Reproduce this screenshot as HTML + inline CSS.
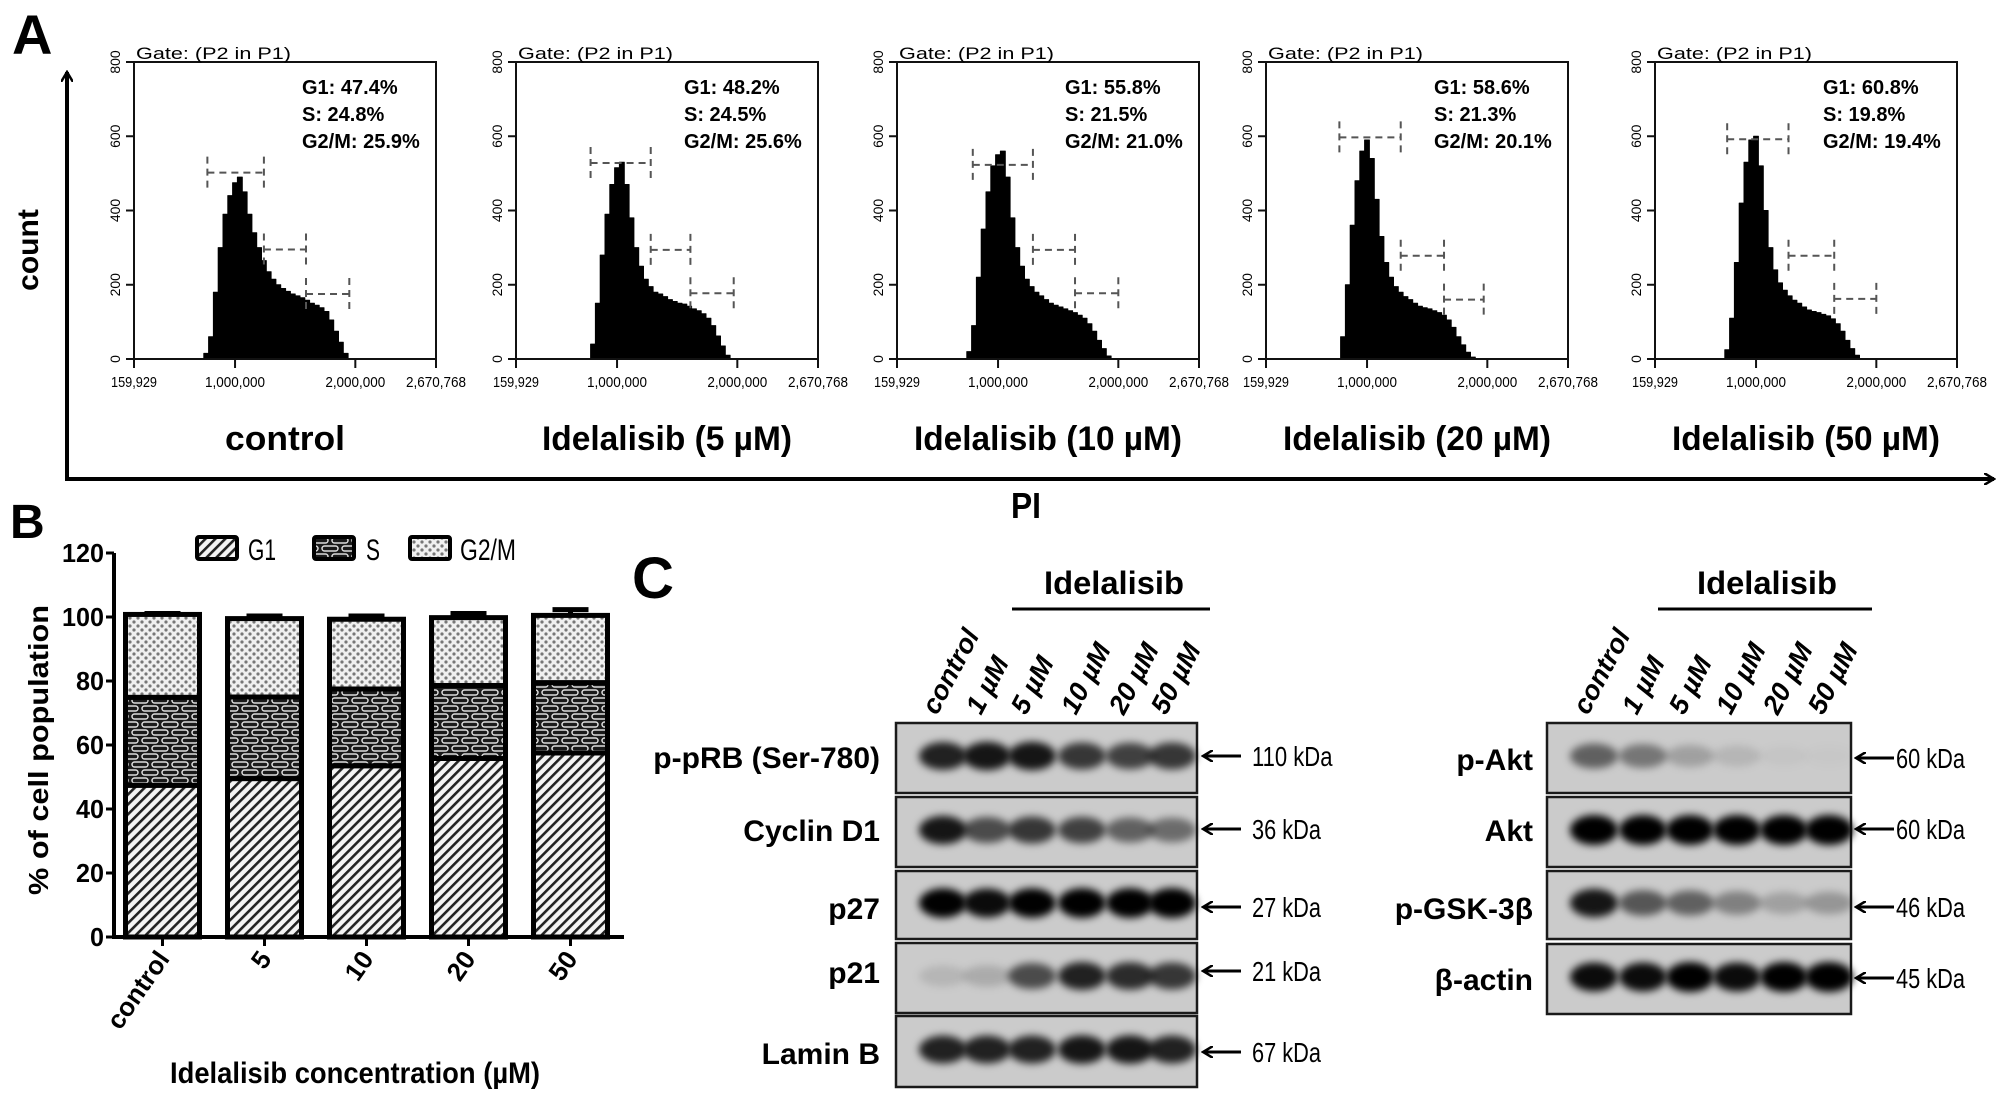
<!DOCTYPE html>
<html><head><meta charset="utf-8">
<style>
html,body{margin:0;padding:0;background:#fff;}
svg{display:block;}
text{font-family:"Liberation Sans",sans-serif;}
</style></head>
<body>
<svg id="fig" width="2008" height="1103" viewBox="0 0 2008 1103" xmlns="http://www.w3.org/2000/svg">
<defs>
<pattern id="pG1" width="7" height="7" patternUnits="userSpaceOnUse" patternTransform="rotate(45)">
<rect width="7" height="7" fill="#f4f4f4"/><rect width="2.6" height="7" fill="#222"/>
</pattern>
<pattern id="pS" width="20" height="16" patternUnits="userSpaceOnUse">
<rect width="20" height="16" fill="#1a1a1a"/>
<rect x="2" y="2" width="16" height="5" rx="2.5" fill="none" stroke="#ddd" stroke-width="1.5"/>
<rect x="-8" y="10" width="16" height="5" rx="2.5" fill="none" stroke="#ddd" stroke-width="1.5"/>
<rect x="12" y="10" width="16" height="5" rx="2.5" fill="none" stroke="#ddd" stroke-width="1.5"/>
</pattern>
<pattern id="pG2" width="8" height="8" patternUnits="userSpaceOnUse">
<rect width="8" height="8" fill="#f0f0f0"/><circle cx="2" cy="2" r="1.6" fill="#777"/><circle cx="6" cy="6" r="1.6" fill="#777"/>
</pattern>
<filter id="blur" x="-30%" y="-80%" width="160%" height="260%"><feGaussianBlur stdDeviation="4"/></filter>
<marker id="ah" markerWidth="12" markerHeight="12" refX="10" refY="6" orient="auto" markerUnits="userSpaceOnUse"><path d="M0,0 L10,6 L0,12" fill="none" stroke="#000" stroke-width="2.5"/></marker>
</defs>
<g id="panelA"></g>
<g id="panelB"></g>
<g id="panelC"></g>
</svg>
<script>
// ---------- Panel A data ----------
const histBinStart = 700000;
const histBinStep = 40000;
const histTitles = ["control","Idelalisib (5 µM)","Idelalisib (10 µM)","Idelalisib (20 µM)","Idelalisib (50 µM)"];
const histG1 = ["47.4%","48.2%","55.8%","58.6%","60.8%"];
const histS = ["24.8%","24.5%","21.5%","21.3%","19.8%"];
const histG2M = ["25.9%","25.6%","21.0%","20.1%","19.4%"];
const histCounts0 = [0,15,60,180,300,390,440,475,490,450,390,340,300,265,235,215,200,190,182,175,170,165,158,150,145,138,128,105,75,45,15,0];
const histCounts1 = [0,0,40,150,280,390,470,515,530,470,380,300,250,215,195,180,175,168,160,155,150,148,142,135,130,122,110,90,62,35,10,0];
const histCounts2 = [0,20,90,220,350,450,520,550,560,490,380,300,250,215,195,180,170,160,150,145,140,135,130,125,118,110,95,75,50,28,8,0];
const histCounts3 = [0,0,60,200,360,480,560,590,540,430,330,260,220,195,180,168,160,150,142,138,135,130,125,118,105,85,60,38,18,5,0,0];
const histCounts4 = [0,25,110,260,420,530,590,600,520,400,300,240,205,185,170,158,150,140,132,128,125,120,116,108,95,75,50,28,10,0,0,0];
const gateG1Lo = [770000,780000,790000,770000,760000];
const gateG1Hi = [1240000,1280000,1290000,1280000,1270000];
const gateSHi = [1590000,1610000,1640000,1640000,1650000];
const gateG2Hi = [1950000,1970000,2000000,1970000,2000000];
const gateG1Y = [502,528,523,597,592];
const gateSY = [295,294,294,278,278];
const gateG2Y = [175,177,177,160,162];
const histXTicks = [159929,1000000,2000000,2670768];
const histXTickLabels = ["159,929","1,000,000","2,000,000","2,670,768"];
const histYTicks = [0,200,400,600,800];

// ---------- Panel B data ----------
const barCats = ["control","5","10","20","50"];
const barG1 = [47.4,49.5,53.5,55.8,57.5];
const barS = [27.5,25.5,24.0,22.8,22.0];
const barG2M = [25.9,24.5,21.8,21.2,21.0];
const barErr = [0.3,0.8,1.0,1.3,1.8];
const barYTicks = [0,20,40,60,80,100,120];

// ---------- Panel C data ----------
const laneLabels = ["control","1 µM","5 µM","10 µM","20 µM","50 µM"];
const blotLeftNames = ["p-pRB (Ser-780)","Cyclin D1","p27","p21","Lamin B"];
const blotLeftKda = ["110 kDa","36 kDa","27 kDa","21 kDa","67 kDa"];
const bandPpRB = [0.8,0.85,0.85,0.7,0.65,0.7];
const bandCyclinD1 = [0.85,0.6,0.7,0.65,0.5,0.45];
const bandP27 = [0.95,0.9,0.95,0.97,0.97,1];
const bandP21 = [0.1,0.15,0.6,0.8,0.75,0.7];
const bandLaminB = [0.8,0.8,0.8,0.85,0.85,0.8];
const blotRightNames = ["p-Akt","Akt","p-GSK-3β","β-actin"];
const blotRightKda = ["60 kDa","60 kDa","46 kDa","45 kDa"];
const bandPAkt = [0.5,0.4,0.2,0.1,0.03,0.02];
const bandAkt = [1,1,1,1,1,1];
const bandPGSK = [0.85,0.55,0.5,0.35,0.2,0.25];
const bandActin = [0.9,0.9,1,0.9,1,1];

const NS = "http://www.w3.org/2000/svg";
function el(tag, attrs, parent, txt){
  const e = document.createElementNS(NS, tag);
  for (const k in attrs) e.setAttribute(k, attrs[k]);
  if (txt !== undefined) e.textContent = txt;
  parent.appendChild(e);
  return e;
}
const A = document.getElementById('panelA');
const B = document.getElementById('panelB');
const C = document.getElementById('panelC');

// ===== Panel A frame =====
let t = el('text',{x:12,y:54,'font-size':56,'font-weight':'bold'},A,'A');


let ln = el('line',{x1:67,y1:479,x2:67,y2:72,stroke:'#000','stroke-width':4,'marker-end':'url(#ah)'},A);


ln = el('line',{x1:65,y1:479,x2:1994,y2:479,stroke:'#000','stroke-width':4,'marker-end':'url(#ah)'},A);


t = el('text',{x:0,y:0,'font-size':30,'font-weight':'bold','text-anchor':'middle',transform:'translate(38,250) rotate(-90)'},A,'count');


t = el('text',{x:1026,y:518,'font-size':36,'font-weight':'bold','text-anchor':'middle',textLength:30,lengthAdjust:'spacingAndGlyphs'},A,'PI');



const histLefts = [134,516,897,1266,1655];
const histW = 302, histTop = 62, histZero = 359;
const histCounts = [histCounts0,histCounts1,histCounts2,histCounts3,histCounts4];
histLefts.forEach((L,p)=>{
  const g = el('g',{},A);
  
  
  const xS = v => L + (v-159929)/(2670768-159929)*histW;
  const yS = c => histZero - c/800*(histZero-histTop);
  const cs = histCounts[p];
  let d = 'M'+xS(histBinStart)+','+yS(0);
  cs.forEach((c,i)=>{
    const x0 = xS(histBinStart+i*histBinStep), x1 = xS(histBinStart+(i+1)*histBinStep);
    d += ' L'+x0.toFixed(1)+','+yS(c).toFixed(1)+' L'+x1.toFixed(1)+','+yS(c).toFixed(1);
  });
  d += ' L'+xS(histBinStart+cs.length*histBinStep)+','+yS(0)+' Z';
  const h = el('path',{d:d,fill:'#000',stroke:'#000','stroke-width':1,'stroke-linejoin':'round'},g);
  
  
  const box = el('path',{d:`M${L},${histZero} L${L},${histTop} L${L+histW},${histTop} L${L+histW},${histZero} Z`,fill:'none',stroke:'#111','stroke-width':2},g);
  
  
  histXTicks.forEach((v,i)=>{
    const tk = el('line',{x1:xS(v),y1:histZero,x2:xS(v),y2:histZero+9,stroke:'#111','stroke-width':2},g);
    
    
    const tl = el('text',{x:xS(v),y:histZero+28,'font-size':15,'text-anchor':'middle',textLength:histXTickLabels[i].length>7?60:46,lengthAdjust:'spacingAndGlyphs'},g,histXTickLabels[i]);
    
    
  });
  histYTicks.forEach(v=>{
    const tk = el('line',{x1:L-8,y1:yS(v),x2:L,y2:yS(v),stroke:'#111','stroke-width':2},g);
    
    
    const tl = el('text',{x:0,y:0,'font-size':14,'text-anchor':'middle',transform:`translate(${L-14},${yS(v)}) rotate(-90)`},g,String(v));
    
    
  });
  const gl = el('text',{x:L+2,y:histTop-3,'font-size':17,textLength:155,lengthAdjust:'spacingAndGlyphs'},g,'Gate: (P2 in P1)');
  
  
  [['G1: '+histG1[p],94],['S: '+histS[p],121],['G2/M: '+histG2M[p],148]].forEach(s=>{
    const st = el('text',{x:L+168,y:s[1],'font-size':20,'font-weight':'bold'},g,s[0]);
    
    
  });
  [[gateG1Lo[p],gateG1Hi[p],gateG1Y[p]],[gateG1Hi[p],gateSHi[p],gateSY[p]],[gateSHi[p],gateG2Hi[p],gateG2Y[p]]].forEach((gg,i)=>{
    const x0 = xS(gg[0]), x1 = xS(gg[1]), y = yS(gg[2]);
    const gp = el('path',{d:`M${x0},${y-16} L${x0},${y+16} M${x1},${y-16} L${x1},${y+16} M${x0},${y} L${x1},${y}`,stroke:'#555','stroke-width':2,'stroke-dasharray':'7,5',fill:'none'},g);
    
    
  });
  const ct = el('text',{x:L+histW/2,y:450,'font-size':34,'font-weight':'bold','text-anchor':'middle',textLength:p===0?120:(p===1?250:268),lengthAdjust:'spacingAndGlyphs'},g,histTitles[p]);
  
  
});

// ===== Panel B =====
t = el('text',{x:10,y:538,'font-size':48,'font-weight':'bold'},B,'B');


const yB = v => 937 - v*(384/120);
const xB = i => 162.5 + i*102;
const bw = 74;
let ax = el('line',{x1:114,y1:yB(120),x2:114,y2:yB(0)+2,stroke:'#000','stroke-width':4},B);


ax = el('line',{x1:112,y1:yB(0),x2:624,y2:yB(0),stroke:'#000','stroke-width':4},B);


barYTicks.forEach(v=>{
  const tk = el('line',{x1:106,y1:yB(v),x2:114,y2:yB(v),stroke:'#000','stroke-width':3},B);
  
  
  const tl = el('text',{x:104,y:yB(v)+9,'font-size':26,'font-weight':'bold','text-anchor':'end',textLength:String(v).length*14,lengthAdjust:'spacingAndGlyphs'},B,String(v));
  
  
});
t = el('text',{x:0,y:0,'font-size':28,'font-weight':'bold','text-anchor':'middle',transform:'translate(48,750) rotate(-90)',textLength:290,lengthAdjust:'spacingAndGlyphs'},B,'% of cell population');


t = el('text',{x:355,y:1083,'font-size':30,'font-weight':'bold','text-anchor':'middle',textLength:370,lengthAdjust:'spacingAndGlyphs'},B,'Idelalisib concentration (µM)');


barCats.forEach((c,i)=>{
  const cx = xB(i), x0 = cx-bw/2;
  const g1Top = yB(barG1[i]), sTop = yB(barG1[i]+barS[i]), gTop = yB(barG1[i]+barS[i]+barG2M[i]);
  let r = el('rect',{x:x0,y:g1Top,width:bw,height:yB(0)-g1Top,fill:'url(#pG1)',stroke:'#000','stroke-width':5},B);
  
  
  r = el('rect',{x:x0,y:sTop,width:bw,height:g1Top-sTop,fill:'url(#pS)',stroke:'#000','stroke-width':5},B);
  
  
  r = el('rect',{x:x0,y:gTop,width:bw,height:sTop-gTop,fill:'url(#pG2)',stroke:'#000','stroke-width':5},B);
  
  
  const tot = barG1[i]+barS[i]+barG2M[i];
  const eb = el('path',{d:`M${cx},${yB(tot)} L${cx},${yB(tot+barErr[i])} M${cx-18},${yB(tot+barErr[i])} L${cx+18},${yB(tot+barErr[i])}`,stroke:'#000','stroke-width':5},B);
  
  
  const tk = el('line',{x1:cx,y1:yB(0),x2:cx,y2:yB(0)+9,stroke:'#000','stroke-width':3},B);
  
  
  const tl = el('text',{x:0,y:0,'font-size':26,'font-weight':'bold','text-anchor':'end',transform:`translate(${cx+8},${yB(0)+22}) rotate(-55)`},B,c);
  
  
});
[['G1','url(#pG1)',197,248],['S','url(#pS)',314,366],['G2/M','url(#pG2)',410,460]].forEach(l=>{
  const sw = el('rect',{x:l[2],y:537,width:40,height:22,fill:l[1],stroke:'#000','stroke-width':4,rx:2},B);
  
  
  const lt = el('text',{x:l[3],y:560,'font-size':30,textLength:l[0].length*14,lengthAdjust:'spacingAndGlyphs'},B,l[0]);
  
  
});

// ===== Panel C =====
t = el('text',{x:632,y:598,'font-size':58,'font-weight':'bold',textLength:42,lengthAdjust:'spacingAndGlyphs'},C,'C');



function drawBlot(name, bx, bw2, strips, names, kdas, bands, laneX, arrowY, labelX, kdaX, arrowX0, headerX, ulX0, ulX1){
  const g = el('g',{},C);
  
  
  const hd = el('text',{x:headerX,y:594,'font-size':32,'font-weight':'bold','text-anchor':'middle',textLength:140,lengthAdjust:'spacingAndGlyphs'},g,'Idelalisib');
  
  
  const ul = el('line',{x1:ulX0,y1:609,x2:ulX1,y2:609,stroke:'#000','stroke-width':3},g);
  
  
  laneLabels.forEach((lab,i)=>{
    const lt = el('text',{x:0,y:0,'font-size':27,'font-weight':'bold','font-style':'italic',transform:`translate(${laneX[i]-6},${716}) rotate(-62)`},g,lab);
    
    
  });
  strips.forEach((s,k)=>{
    const bg = el('rect',{x:bx,y:s[0],width:bw2,height:s[1]-s[0],fill:'#cbcbcb',stroke:'#1a1a1a','stroke-width':2.5},g);
    
    
    const cy = (s[0]+s[1])/2 - 2;
    bands[k].forEach((v,i)=>{
      const b = el('ellipse',{cx:laneX[i],cy:cy,rx:24,ry:10+v*5,fill:'#000','fill-opacity':Math.min(1,v*1.05),filter:'url(#blur)'},g);
      
      
    });
    const nm = el('text',{x:labelX,y:arrowY[k]+12,'font-size':30,'font-weight':'bold','text-anchor':'end'},g,names[k]);
    
    
    const ar = el('line',{x1:arrowX0+38,y1:arrowY[k],x2:arrowX0,y2:arrowY[k],stroke:'#000','stroke-width':3,'marker-end':'url(#ah)'},g);
    
    
    const kd = el('text',{x:kdaX,y:arrowY[k]+10,'font-size':28,textLength:kdas[k].length*11.5,lengthAdjust:'spacingAndGlyphs'},g,kdas[k]);
    
    
  });
}
drawBlot('blot-cell-cycle',896,301,[[723,793],[797,867],[871,939],[943,1013],[1016,1087]],
  blotLeftNames,blotLeftKda,[bandPpRB,bandCyclinD1,bandP27,bandP21,bandLaminB],
  [943,987,1032,1082,1130,1172],[756,829,907,971,1052],880,1252,1203,1114,1012,1210);
drawBlot('blot-akt-pathway',1547,304,[[723,793],[797,867],[871,939],[944,1014]],
  blotRightNames,blotRightKda,[bandPAkt,bandAkt,bandPGSK,bandActin],
  [1594,1643,1690,1737,1784,1829],[758,829,907,978],1533,1896,1856,1767,1658,1872);
</script>
</body></html>
